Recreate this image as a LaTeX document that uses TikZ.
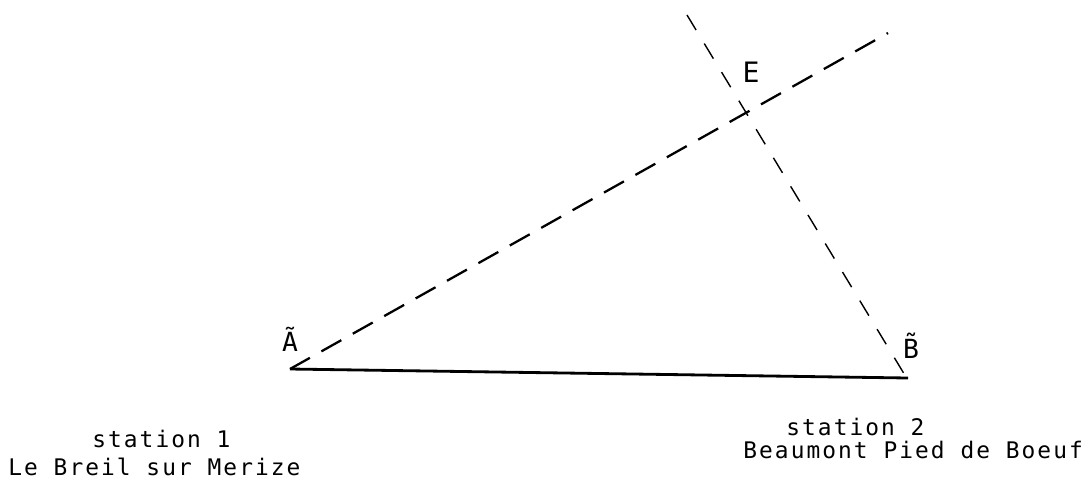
\documentclass[tikz,border=0pt]{standalone}
\usepackage{fontspec}
\newfontfamily\plotfont{DejaVu Sans Mono}
\newfontfamily\plotfontsp[LetterSpace=9]{DejaVu Sans Mono}
\begin{document}
\begin{tikzpicture}[x=0.02cm,y=-0.02cm,
  lbl/.style={inner sep=0pt,font=\plotfont\fontsize{15}{15}\selectfont},
  stxt/.style={inner sep=0pt,anchor=base west,font=\plotfontsp\fontsize{13}{14}\selectfont},
  baseln/.style={line width=1.6pt},
  sightA/.style={line width=1.3pt,dash pattern=on 13pt off 7.5pt},
  sightB/.style={line width=0.8pt,dash pattern=on 10pt off 9pt}]
\useasboundingbox (0,0) rectangle (1092,478);
\coordinate (A) at (290,369);
\coordinate (B) at (908,378);
\coordinate (Bl) at (906,377);
\coordinate (P) at (888,33);
\coordinate (Q) at (687,15);
\draw[baseln] (A) -- (B);
\draw[sightA] (A) -- (P);
\draw[sightB] (Q) -- (Bl);
\node[lbl,anchor=base] (la) at (290,351) {\~A};
\node[lbl,anchor=base,font=\plotfont\fontsize{16}{16}\selectfont] (le) at (751,82) {E};
\node[lbl,anchor=base] (lb) at (911,358) {\~B};
\node[stxt] (s1) at (92,447) {station 1};
\node[stxt] (n1) at (8,475) {Le Breil sur Merize};
\node[stxt] (s2) at (786,435) {station 2};
\node[stxt] (n2) at (743,458) {Beaumont Pied de Boeuf};
\end{tikzpicture}
\end{document}
